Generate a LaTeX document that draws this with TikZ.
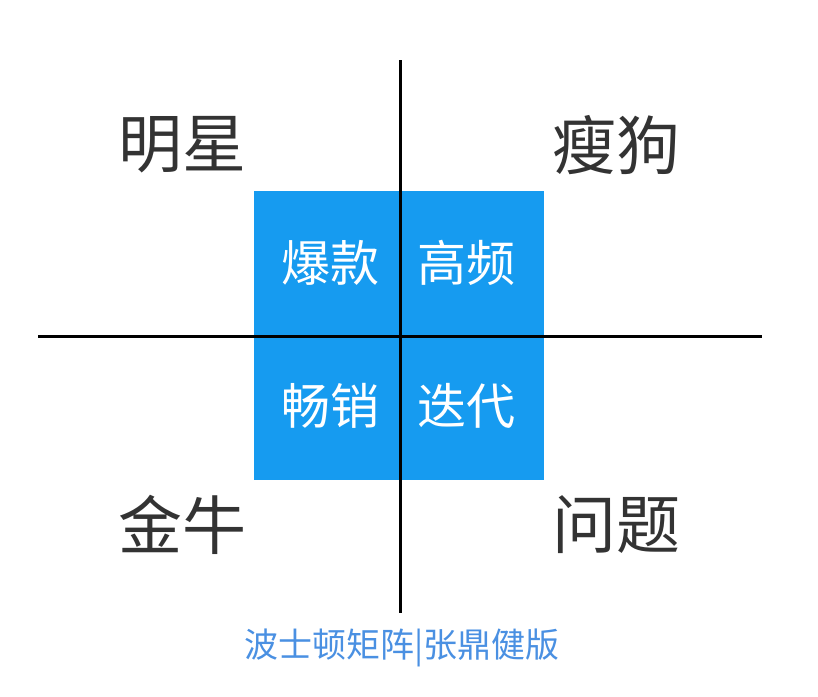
\documentclass[tikz,border=0pt]{standalone}
\usepackage{fontspec}
\newfontfamily\cjk{Noto Sans CJK SC}
\definecolor{cellblue}{RGB}{22,155,240}
\definecolor{capblue}{RGB}{74,144,226}
\definecolor{darktext}{RGB}{51,51,51}
\begin{document}
\begin{tikzpicture}[x=1pt, y=-1pt,
    corner/.style={text=darktext, font=\cjk\fontsize{64}{64}\selectfont},
    cell/.style={text=white, font=\cjk\fontsize{49}{49}\selectfont},
    axis/.style={line width=3pt, black}]
    \useasboundingbox (0,0) rectangle (818,696);
    % blue square in the middle
    \fill[cellblue] (254,191) rectangle (544,480);
    \node[cell] (hot) at (330,263) {爆款};
    \node[cell] (freq) at (466,263) {高频};
    \node[cell] (sell) at (330,406) {畅销};
    \node[cell] (iter) at (466,406) {迭代};
    % axes
    \coordinate (top) at (400,60);
    \coordinate (bottom) at (400,613);
    \coordinate (left) at (38,336);
    \coordinate (right) at (762,336);
    \draw[axis] (top) -- (bottom);
    \draw[axis] (left) -- (right);
    % quadrant names
    \node[corner] (star) at (182,145) {明星};
    \node[corner] (dog) at (616,145) {瘦狗};
    \node[corner] (cow) at (182,525) {金牛};
    \node[corner] (question) at (616,525) {问题};
    \node[text=capblue, font=\cjk\fontsize{34}{34}\selectfont] (caption) at (402,648) {波士顿矩阵|张鼎健版};
\end{tikzpicture}
\end{document}
